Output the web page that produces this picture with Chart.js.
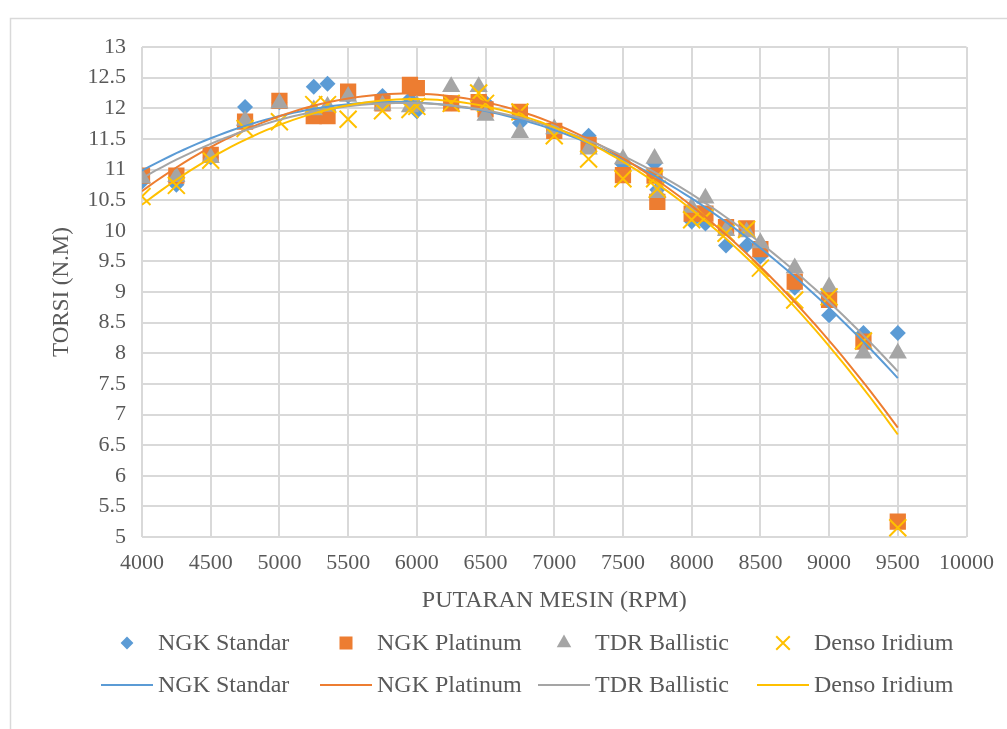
<!DOCTYPE html>
<html>
<head>
<meta charset="utf-8">
<script src="https://cdn.jsdelivr.net/npm/chart.js@4.4.0/dist/chart.umd.min.js"></script>
<style>
  html, body { margin: 0; padding: 0; background: #ffffff; }
  #wrap { width: 1007px; height: 729px; position: relative; }
</style>
</head>
<body>
<div id="wrap"><canvas id="c" width="1007" height="729"></canvas></div>
<script>
// Engine speed (RPM) at which torque was measured
const rpm = [4000, 4250, 4500, 4750, 5000, 5250, 5350, 5500, 5750, 5950, 6000, 6250, 6450, 6500,
             6750, 7000, 7250, 7500, 7730, 7750, 8000, 8100, 8250, 8400, 8500, 8750, 9000, 9250, 9500];

// Torque (N.m) per spark plug type
const ngkStandar   = [10.8, 10.75, 11.2, 12.02, 12.1, 12.35, 12.4, 12.2, 12.2, 12.15, 11.95, 12.08, 12.12, 12.1,
                      11.76, 11.65, 11.55, 11.08, 11.1, 10.67, 10.15, 10.12, 9.76, 9.76, 9.58, 9.07, 8.62, 8.33, 8.33];
const ngkPlatinum  = [10.9, 10.9, 11.24, 11.78, 12.12, 11.87, 11.87, 12.27, 12.08, 12.38, 12.33, 12.08, 12.1, 11.98,
                      11.94, 11.63, 11.4, 10.91, 10.9, 10.47, 10.28, 10.28, 10.06, 10.04, 9.7, 9.17, 8.87, 8.19, 5.25];
const tdrBallistic = [10.86, 10.88, 11.19, 11.8, 12.08, 11.97, 12.03, 12.19, 12.05, 12.02, 12.05, 12.35, 12.35, 11.88,
                      11.6, 11.66, 11.33, 11.17, 11.18, 10.62, 10.38, 10.53, 10.0, 9.98, 9.8, 9.39, 9.08, 8.0, 8.0];
const densoIridium = [10.56, 10.74, 11.15, 11.67, 11.78, 12.06, 12.06, 11.82, 11.96, 11.98, 12.03, 12.08, 12.25, 12.08,
                      11.94, 11.55, 11.17, 10.85, 10.85, 10.68, 10.18, 10.22, 9.96, 10.02, 9.39, 8.87, 8.92, 8.2, 5.15];

const seriesNames = ['NGK Standar', 'NGK Platinum', 'TDR Ballistic', 'Denso Iridium'];
const seriesValues = [ngkStandar, ngkPlatinum, tdrBallistic, densoIridium];
const seriesColors = ['#5B9BD5', '#ED7D31', '#A5A5A5', '#FFC000'];
const markerStyles = [
  { pointStyle: 'rectRot', radius: 8 },
  { pointStyle: 'rect', radius: 11.5 },
  { pointStyle: 'triangle', radius: 10.5 },
  { pointStyle: 'crossRot', radius: 12 }
];

const xTicks = { min: 4000, max: 10000, step: 500 };
const yTicks = { min: 5, max: 13, step: 0.5 };

const TEXT = '#595959';
const FONT = 'Liberation Serif, "Times New Roman", serif';

// Second-order polynomial trendline (least squares) through a series
function polyFit2(xs, ys) {
  const c = 6750, s = 1000;
  let S = [0, 0, 0, 0, 0], T = [0, 0, 0];
  xs.forEach((xv, i) => {
    const u = (xv - c) / s;
    let p = 1;
    for (let k = 0; k < 5; k++) { S[k] += p; if (k < 3) T[k] += p * ys[i]; p *= u; }
  });
  const A = [[S[0], S[1], S[2], T[0]], [S[1], S[2], S[3], T[1]], [S[2], S[3], S[4], T[2]]];
  for (let i = 0; i < 3; i++) {
    for (let j = i + 1; j < 3; j++) {
      const f = A[j][i] / A[i][i];
      for (let k = i; k < 4; k++) A[j][k] -= f * A[i][k];
    }
  }
  const b = [0, 0, 0];
  for (let i = 2; i >= 0; i--) {
    let v = A[i][3];
    for (let k = i + 1; k < 3; k++) v -= A[i][k] * b[k];
    b[i] = v / A[i][i];
  }
  return (xv) => { const u = (xv - c) / s; return b[0] + b[1] * u + b[2] * u * u; };
}

function trendPoints(xs, ys) {
  const f = polyFit2(xs, ys);
  const lo = Math.min(...xs), hi = Math.max(...xs);
  const pts = [];
  for (let xv = lo; xv <= hi; xv += 50) pts.push({ x: xv, y: f(xv) });
  return pts;
}

const datasets = [];
// markers: first series at the bottom, last series on top
seriesNames.forEach((name, i) => {
  datasets.push({
    label: name,
    type: 'scatter',
    data: rpm.map((r, k) => ({ x: r, y: seriesValues[i][k] })),
    backgroundColor: seriesColors[i],
    borderColor: seriesColors[i],
    pointStyle: markerStyles[i].pointStyle,
    pointRadius: markerStyles[i].radius,
    pointHoverRadius: markerStyles[i].radius,
    pointBorderWidth: markerStyles[i].pointStyle === 'crossRot' ? 2 : 0,
    showLine: false,
    order: 10 - i
  });
});
// trendlines drawn above the markers
seriesNames.forEach((name, i) => {
  datasets.push({
    label: name,
    type: 'scatter',
    data: trendPoints(rpm, seriesValues[i]),
    borderColor: seriesColors[i],
    backgroundColor: seriesColors[i],
    borderWidth: 2,
    pointRadius: 0,
    showLine: true,
    tension: 0,
    order: 4 - i
  });
});

const frameAndLegend = {
  id: 'frameAndLegend',
  beforeDraw(chart) {
    const ctx = chart.ctx;
    ctx.save();
    ctx.fillStyle = '#ffffff';
    ctx.fillRect(0, 0, chart.width, chart.height);
    ctx.strokeStyle = '#d9d9d9';
    ctx.lineWidth = 1.5;
    ctx.strokeRect(10.5, 18.5, 1200, 1000);
    ctx.restore();
  },
  afterDraw(chart) {
    const ctx = chart.ctx;
    const cols = [158, 377, 595, 814];
    const row1 = 643, row2 = 685;
    ctx.save();
    ctx.font = '24px ' + FONT;
    ctx.textBaseline = 'middle';
    ctx.textAlign = 'left';
    seriesNames.forEach((name, i) => {
      const tx = cols[i];
      // marker entry
      ctx.fillStyle = seriesColors[i];
      ctx.strokeStyle = seriesColors[i];
      ctx.lineWidth = 2;
      Chart.helpers.drawPoint(ctx, {
        pointStyle: markerStyles[i].pointStyle,
        radius: markerStyles[i].radius * 0.8,
        rotation: 0,
        borderWidth: markerStyles[i].pointStyle === 'crossRot' ? 2 : 0
      }, tx - 31, row1);
      ctx.fillStyle = TEXT;
      ctx.fillText(name, tx, row1 + 1);
      // trendline entry
      ctx.strokeStyle = seriesColors[i];
      ctx.lineWidth = 2;
      ctx.beginPath();
      ctx.moveTo(tx - 57, row2);
      ctx.lineTo(tx - 5, row2);
      ctx.stroke();
      ctx.fillStyle = TEXT;
      ctx.fillText(name, tx, row2 + 1);
    });
    ctx.restore();
  }
};

new Chart(document.getElementById('c'), {
  type: 'scatter',
  data: { datasets },
  plugins: [frameAndLegend],
  options: {
    responsive: false,
    animation: false,
    layout: { padding: { left: 44, top: 47, right: 37, bottom: 110 } },
    plugins: { legend: { display: false }, tooltip: { enabled: false } },
    scales: {
      x: {
        type: 'linear',
        min: xTicks.min, max: xTicks.max,
        afterFit(scale) { scale.height = 82; },
        ticks: {
          stepSize: xTicks.step,
          padding: 13,
          color: TEXT,
          font: { family: FONT, size: 22 },
          maxRotation: 0,
          callback: (v) => String(v)
        },
        grid: { color: '#d9d9d9', lineWidth: 2, drawTicks: false },
        border: { display: false },
        title: { display: true, text: 'PUTARAN MESIN (RPM)', color: TEXT, font: { family: FONT, size: 24 }, padding: { top: 4, bottom: 4 } }
      },
      y: {
        type: 'linear',
        min: yTicks.min, max: yTicks.max,
        afterFit(scale) { scale.width = 98; },
        ticks: {
          stepSize: yTicks.step,
          padding: 16,
          color: TEXT,
          font: { family: FONT, size: 22 },
          callback: (v) => String(v)
        },
        grid: { color: '#d9d9d9', lineWidth: 2, drawTicks: false },
        border: { display: false },
        title: { display: true, text: 'TORSI (N.M)', color: TEXT, font: { family: FONT, size: 23 }, padding: { top: 4, bottom: 4 } }
      }
    }
  }
});
</script>
</body>
</html>
